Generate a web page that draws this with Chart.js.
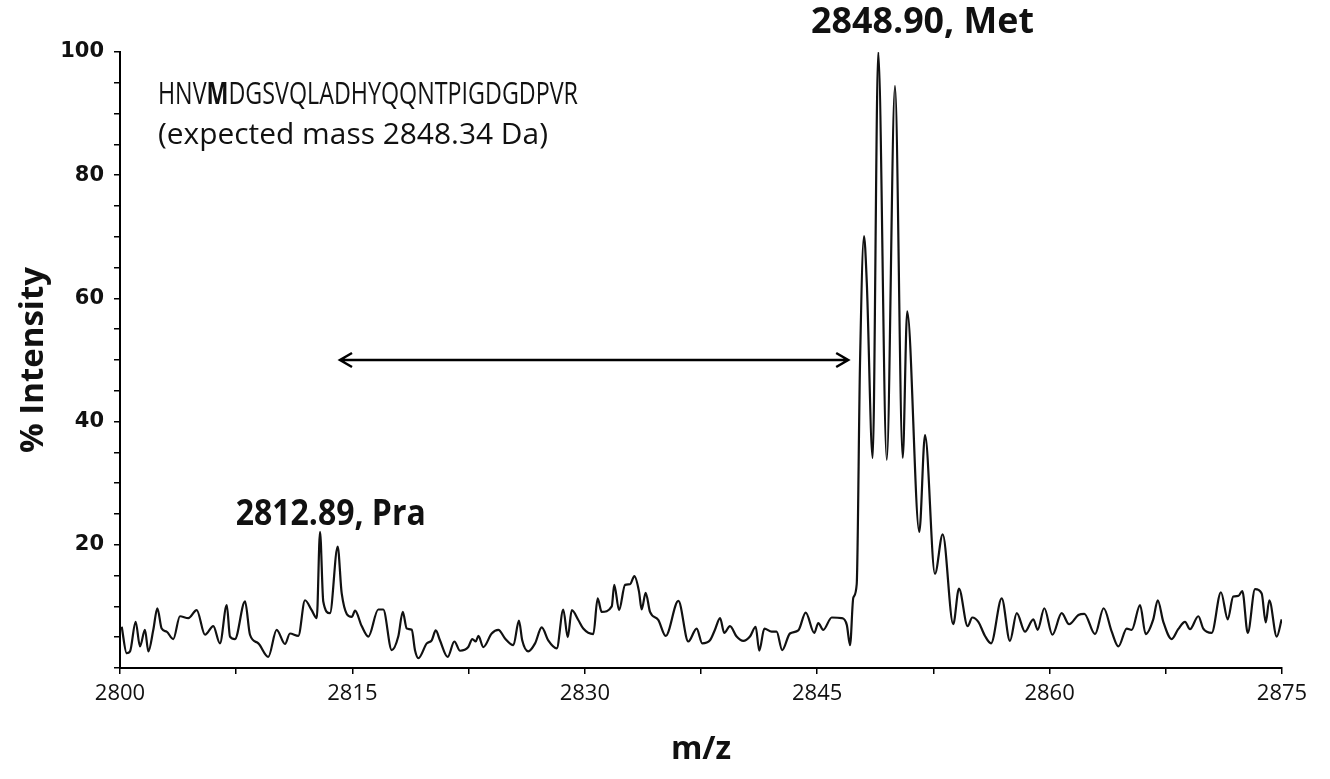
<!DOCTYPE html>
<html>
<head>
<meta charset="utf-8">
<script src="https://cdn.jsdelivr.net/npm/chart.js@4.4.0/dist/chart.umd.min.js"></script>
<style>
  body { margin: 0; background: #fff; }
</style>
</head>
<body>
<canvas id="spectrum" width="1330" height="779"></canvas>
<script>
// m/z values
var mz = [2800.11, 2800.43, 2800.65, 2801.01, 2801.29, 2801.61, 2801.83, 2802.15, 2802.41, 2802.69,
  2803.01, 2803.44, 2803.87, 2804.41, 2804.95, 2805.49, 2806.02, 2806.45, 2806.89, 2807.10,
  2807.42, 2808.07, 2808.39, 2808.93, 2809.57, 2810.11, 2810.65, 2810.97, 2811.51, 2811.94,
  2812.37, 2812.70, 2812.91, 2813.12, 2813.55, 2814.05, 2814.31, 2814.96, 2815.17, 2815.60,
  2816.03, 2816.67, 2816.99, 2817.54, 2817.96, 2818.25, 2818.51, 2818.83, 2819.04, 2819.26,
  2819.80, 2820.12, 2820.38, 2820.65, 2821.15, 2821.58, 2821.95, 2822.48, 2822.74, 2822.96,
  2823.13, 2823.45, 2823.99, 2824.42, 2824.85, 2825.39, 2825.75, 2825.96, 2826.35, 2826.79,
  2827.22, 2827.64, 2828.19, 2828.61, 2828.90, 2829.16, 2829.58, 2829.90, 2830.55, 2830.83,
  2831.09, 2831.74, 2831.90, 2832.21, 2832.60, 2832.92, 2833.20, 2833.50, 2833.67, 2833.93,
  2834.21, 2834.74, 2835.22, 2836.04, 2836.68, 2837.22, 2837.58, 2838.08, 2838.40, 2838.73,
  2839.00, 2839.37, 2839.80, 2840.23, 2840.66, 2841.03, 2841.26, 2841.59, 2842.06, 2842.38,
  2842.74, 2843.24, 2843.78, 2844.26, 2844.81, 2845.07, 2845.39, 2845.94, 2846.58, 2846.91,
  2847.12, 2847.33, 2847.55, 2847.76, 2848.02, 2848.20, 2848.58, 2848.94, 2849.49, 2850.02,
  2850.52, 2850.81, 2851.59, 2851.96, 2852.60, 2853.10, 2853.78, 2854.15, 2854.71, 2855.01,
  2855.40, 2855.83, 2856.22, 2856.91, 2857.44, 2857.88, 2858.41, 2858.95, 2859.23, 2859.66,
  2860.18, 2860.78, 2861.26, 2861.86, 2862.24, 2862.93, 2863.49, 2864.01, 2864.44, 2864.98,
  2865.30, 2865.84, 2866.20, 2866.69, 2866.98, 2867.34, 2867.88, 2868.30, 2868.74, 2869.06,
  2869.60, 2869.92, 2870.46, 2871.06, 2871.50, 2871.85, 2872.18, 2872.44, 2872.79, 2873.26,
  2873.69, 2873.95, 2874.18, 2874.66, 2874.98];

// % intensity at each m/z
var intensity = [6.7, 2.4, 2.7, 7.5, 3.5, 6.2, 2.7, 6.2, 9.7, 6.4,
  5.9, 4.7, 8.4, 8.1, 9.4, 5.4, 6.8, 4.0, 10.2, 5.1,
  4.7, 10.8, 5.4, 4.0, 1.8, 6.2, 3.9, 5.6, 5.2, 11.0,
  9.4, 8.1, 22.1, 10.8, 8.9, 19.7, 12.1, 8.3, 9.3, 6.8,
  5.1, 9.5, 9.5, 2.9, 5.1, 9.1, 6.4, 6.2, 2.9, 1.6,
  4.0, 4.5, 6.1, 4.5, 1.8, 4.3, 2.8, 3.4, 4.7, 4.3,
  5.2, 3.4, 5.6, 6.2, 4.8, 3.7, 7.7, 4.5, 2.7, 4.0,
  6.6, 4.5, 3.2, 9.5, 5.0, 9.4, 7.8, 6.4, 5.5, 11.3,
  9.1, 10.0, 13.5, 9.4, 13.5, 13.6, 14.9, 12.4, 9.5, 12.2,
  9.1, 7.8, 5.2, 10.9, 4.3, 6.4, 4.0, 4.5, 6.2, 8.1,
  5.7, 6.8, 5.1, 4.4, 5.1, 6.7, 2.8, 6.4, 5.9, 5.9,
  2.9, 5.6, 6.1, 9.0, 5.7, 7.3, 6.2, 8.2, 8.1, 7.0,
  3.7, 11.4, 13.6, 49.0, 70.1, 62.6, 34.1, 100, 33.8, 94.5,
  34.1, 57.9, 22.1, 37.8, 15.3, 21.7, 7.1, 12.9, 6.8, 8.2,
  7.5, 5.2, 4.0, 11.3, 4.4, 8.9, 5.9, 7.9, 6.2, 9.7,
  5.4, 8.9, 7.1, 8.6, 8.8, 5.5, 9.7, 5.9, 3.5, 6.4,
  6.2, 10.2, 5.5, 7.9, 11.0, 7.5, 4.7, 6.3, 7.5, 6.3,
  8.4, 6.4, 5.7, 12.3, 7.9, 11.6, 11.7, 12.5, 5.7, 12.8,
  12.1, 7.4, 11.0, 5.1, 7.9];

// labelled ticks
var xLabels = [2800, 2815, 2830, 2845, 2860, 2875];
var yLabels = [20, 40, 60, 80, 100];

// double arrow between the two peaks (m/z from, m/z to, intensity)
var arrowFrom = 2814.2;
var arrowTo = 2847.0;
var arrowLevel = 50;

var points = [];
for (var i = 0; i < mz.length; i++) {
  points.push({x: mz[i], y: intensity[i]});
}

// draws a row of text pieces squeezed to a given width (narrow Calibri look)
function fitText(ctx, parts, x, y, width, center) {
  var total = 0;
  for (var i = 0; i < parts.length; i++) {
    ctx.font = parts[i][1];
    total += ctx.measureText(parts[i][0]).width;
  }
  var sx = width / total;
  ctx.save();
  ctx.translate(center ? x - width / 2 : x, y);
  ctx.scale(sx, 1);
  ctx.textBaseline = 'middle';
  ctx.textAlign = 'left';
  ctx.fillStyle = '#111';
  var pos = 0;
  for (var j = 0; j < parts.length; j++) {
    ctx.font = parts[j][1];
    ctx.fillText(parts[j][0], pos, 0);
    pos += ctx.measureText(parts[j][0]).width;
  }
  ctx.restore();
}

var notes = {
  id: 'notes',
  afterDraw: function(chart) {
    var ctx = chart.ctx;
    var xs = chart.scales.x;
    var ys = chart.scales.y;

    // arrow
    var x1 = xs.getPixelForValue(arrowFrom);
    var x2 = xs.getPixelForValue(arrowTo);
    var ay = ys.getPixelForValue(arrowLevel);
    ctx.save();
    ctx.strokeStyle = '#000';
    ctx.lineWidth = 2.5;
    ctx.beginPath();
    ctx.moveTo(x1, ay); ctx.lineTo(x2, ay);
    ctx.moveTo(x1 + 12, ay - 7); ctx.lineTo(x1, ay); ctx.lineTo(x1 + 12, ay + 7);
    ctx.moveTo(x2 - 12, ay - 7); ctx.lineTo(x2, ay); ctx.lineTo(x2 - 12, ay + 7);
    ctx.stroke();
    ctx.restore();

    // peak labels
    fitText(ctx, [['2848.90, Met', 'bold 36px "Open Sans"']],
      xs.getPixelForValue(2851.8), ys.getPixelForValue(104.8), 223, true);
    fitText(ctx, [['2812.89, Pra', 'bold 36px "Open Sans"']],
      xs.getPixelForValue(2813.6), ys.getPixelForValue(24.8), 190, true);

    // peptide sequence
    var sx = xs.getPixelForValue(2802.45);
    fitText(ctx, [['HNV', '31px "Open Sans"'], ['M', 'bold 31px "Open Sans"'],
      ['DGSVQLADHYQQNTPIGDGDPVR', '31px "Open Sans"']],
      sx, ys.getPixelForValue(93.0), 420, false);
    fitText(ctx, [['(expected mass 2848.34 Da)', '30px "Open Sans"']],
      sx, ys.getPixelForValue(86.5), 390, false);
  }
};

var config = {
  type: 'line',
  data: {
    datasets: [{
      data: points,
      borderColor: '#111',
      borderWidth: 2.2,
      pointRadius: 0,
      cubicInterpolationMode: 'monotone',
      fill: false
    }]
  },
  options: {
    responsive: false,
    animation: false,
    devicePixelRatio: 1,
    layout: { padding: { top: 52, right: 48, left: 0, bottom: 0 } },
    plugins: {
      legend: { display: false },
      tooltip: { enabled: false }
    },
    scales: {
      x: {
        type: 'linear',
        min: 2800,
        max: 2875,
        afterFit: function(scale) { scale.height = 111; },
        border: { color: '#000', width: 2 },
        grid: { drawOnChartArea: false, color: '#000', lineWidth: 1.5, tickLength: 6 },
        ticks: {
          stepSize: 7.5,
          autoSkip: false,
          maxRotation: 0,
          padding: 7,
          color: '#111',
          font: { family: '"Open Sans"', size: 22 },
          callback: function(v) { return xLabels.indexOf(v) >= 0 ? String(v) : ''; }
        },
        title: {
          display: true,
          text: 'm/z',
          color: '#111',
          font: { family: '"Open Sans"', size: 32, weight: 'bold' },
          padding: { top: 0, bottom: 10 }
        }
      },
      y: {
        min: 0,
        max: 100,
        afterFit: function(scale) { scale.width = 120; },
        border: { color: '#000', width: 2 },
        grid: { drawOnChartArea: false, color: '#000', lineWidth: 1.5, tickLength: 6 },
        ticks: {
          stepSize: 5,
          autoSkip: false,
          padding: 10,
          color: '#111',
          font: { family: '"DejaVu Sans"', size: 21, weight: 'bold' },
          callback: function(v) { return yLabels.indexOf(v) >= 0 ? String(v) : ''; }
        },
        title: {
          display: true,
          text: '% Intensity',
          color: '#111',
          font: { family: '"Open Sans"', size: 33, weight: 'bold' },
          padding: { top: 14, bottom: 0 }
        }
      }
    }
  },
  plugins: [notes]
};

var myChart = new Chart(document.getElementById('spectrum'), config);
</script>
</body>
</html>
